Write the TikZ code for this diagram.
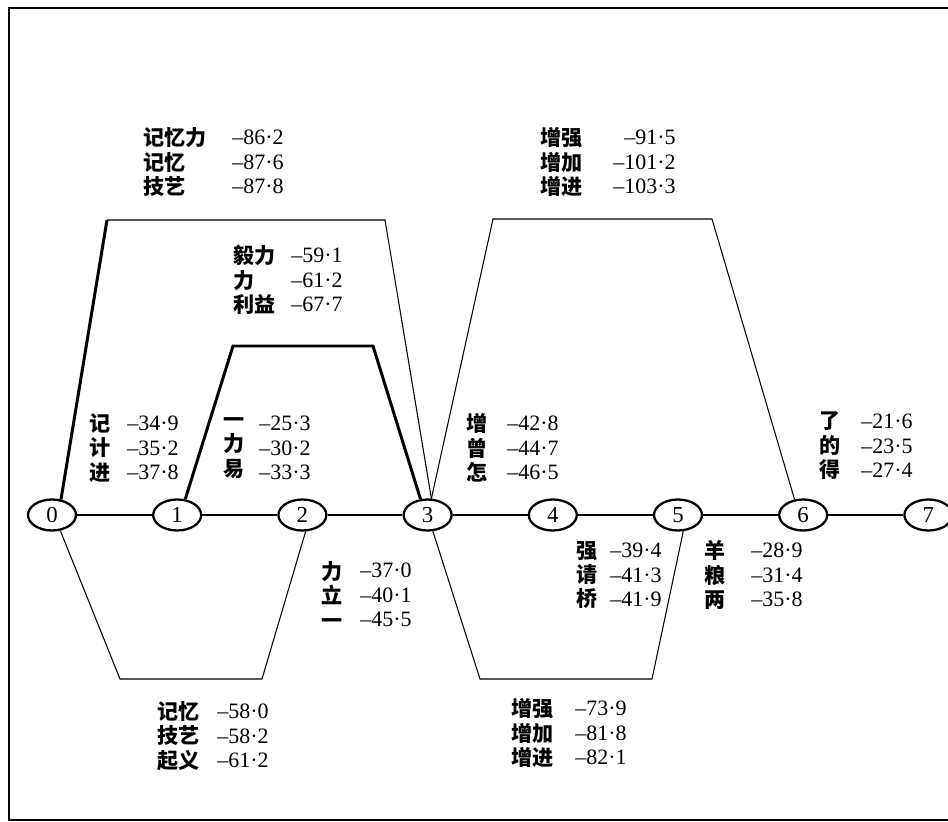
\documentclass[tikz,border=0pt]{standalone}
\usepackage{fontspec}
\setmainfont{Liberation Serif}
\newfontfamily\cjk{Noto Sans CJK SC}
\usetikzlibrary{shapes.geometric}

\tikzset{
    state/.style={
        ellipse,
        draw,
        line width=1.3pt,
        minimum width=0.96cm,
        minimum height=0.62cm,
        inner sep=0pt,
        font=\fontsize{13}{13}\selectfont
    },
    best/.style={line width=1.7pt},
    alt/.style={line width=0.6pt},
    word/.style={
        anchor=west,
        align=left,
        inner sep=0pt,
        font=\cjk\bfseries\fontsize{12}{13.9}\selectfont
    },
    score/.style={
        anchor=east,
        align=right,
        inner sep=0pt,
        font=\fontsize{12.5}{13.9}\selectfont
    },
    frame/.style={line width=1.1pt}
}

% candidate words (left column) and their scores (right column)
\newcommand{\wordset}[6]{%
    \node[word] (w#1) at (#2, #4) {#5};
    \node[score] (v#1) at (#3, #4) {#6};
}

\begin{document}
\begin{tikzpicture}[x=0.02cm, y=-0.02cm]

\useasboundingbox (0,0) rectangle (948,822);

% outer frame (right side runs off the page)
\draw[frame] (948,8) -- (9,8) -- (9,820) -- (948,820);

% lattice states
\foreach \i in {0,...,7} {
    \node[state] (s\i) at ({52+125.2*\i}, 515) {\i};
}

% one-word arcs along the baseline
\foreach \i/\j in {0/1,1/2,2/3,3/4,4/5,5/6,6/7} {
    \draw[best] (s\i) -- (s\j);
}

% corners of the longer arcs
\coordinate (a1) at (107,220);
\coordinate (a2) at (385,220);
\coordinate (b1) at (233,346);
\coordinate (b2) at (373,346);
\coordinate (c1) at (493,219);
\coordinate (c2) at (712,219);
\coordinate (d1) at (120,679);
\coordinate (d2) at (262,679);
\coordinate (e1) at (480,679);
\coordinate (e2) at (652,679);

\draw[best] (s0.60) -- (a1);
\draw[alt] (a1) -- (a2) -- (s3.77);
\draw[best] (s1.63) -- (b1) -- (b2) -- (s3.114);
\draw[alt] (s3.77) -- (c1) -- (c2) -- (s6.119);
\draw[alt] (s0.-62) -- (d1) -- (d2) -- (s2.-79);
\draw[alt] (s3.-72) -- (e1) -- (e2) -- (s5.-72);

\wordset{03}{143}{284}{162}{记忆力\\记忆\\技艺}{–86·2\\–87·6\\–87·8}
\wordset{36}{540}{676}{162}{增强\\增加\\增进}{–91·5\\–101·2\\–103·3}
\wordset{13}{233}{343}{280}{毅力\\力\\利益}{–59·1\\–61·2\\–67·7}
\wordset{01}{89}{179}{448}{记\\计\\进}{–34·9\\–35·2\\–37·8}
\wordset{12}{223}{311}{448}{一\\力\\易}{–25·3\\–30·2\\–33·3}
\wordset{34}{466}{559}{448}{增\\曾\\怎}{–42·8\\–44·7\\–46·5}
\wordset{67}{819}{913}{446}{了\\的\\得}{–21·6\\–23·5\\–27·4}
\wordset{23}{321}{412}{595}{力\\立\\一}{–37·0\\–40·1\\–45·5}
\wordset{02}{157}{269}{736}{记忆\\技艺\\起义}{–58·0\\–58·2\\–61·2}
\wordset{45}{576}{662}{575}{强\\请\\桥}{–39·4\\–41·3\\–41·9}
\wordset{56}{704}{803}{575}{羊\\粮\\两}{–28·9\\–31·4\\–35·8}
\wordset{35}{511}{627}{733}{增强\\增加\\增进}{–73·9\\–81·8\\–82·1}

\end{tikzpicture}
\end{document}
